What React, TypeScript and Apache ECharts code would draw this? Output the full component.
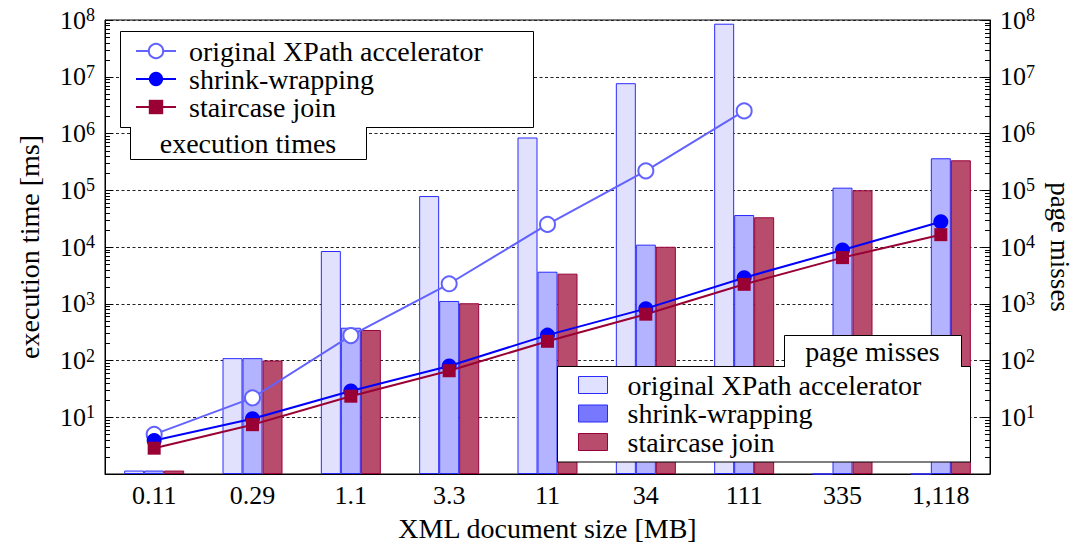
import React, { useEffect, useRef } from 'react';
import * as echarts from 'echarts';

const categories = ['0.11', '0.29', '1.1', '3.3', '11', '34', '111', '335', '1,118'];

// execution times [ms] (lines, left axis)
const xpathTime = [5.0, 22, 275, 2250, 25000, 220000, 2500000, null, null];
const shrinkTime = [3.9, 9.4, 29, 80, 280, 820, 2880, 8850, 27900];
const staircaseTime = [2.85, 7.4, 23.5, 66, 218, 655, 2200, 6500, 16500];

// page misses (bars, right axis)
const xpathMisses = [1.15, 110, 8500, 79000, 850000, 7700000, 86000000, 1, 1];
const shrinkMisses = [1.15, 110, 378, 1120, 3670, 11000, 36600, 111000, 366000];
const staircaseMisses = [1.15, 100, 345, 1020, 3390, 10100, 33400, 100000, 337000];

const seriesNames = ['original XPath accelerator', 'shrink-wrapping', 'staircase join'];
const missSuffix = ' (page misses)';

// minor log ticks
const minorMultipliers = [2, 3, 4, 5, 6, 7, 8, 9];
const decades = [1, 10, 100, 1e3, 1e4, 1e5, 1e6, 1e7];

const FONT = '"Liberation Serif", serif';
const TEXT_SIZE = 28;
const TICK_SIZE = 26;

const xpathLine = '#6262ff';
const shrinkLine = '#0000ff';
const stairLine = '#990033';

export default function App() {
  const ref = useRef<HTMLDivElement>(null);

  useEffect(() => {
    const chart = echarts.init(ref.current!, null, { renderer: 'svg' });

    const minorTicks: number[][] = [];
    decades.forEach((d) => minorMultipliers.forEach((m) => minorTicks.push([0, m * d])));

    const supLabel = (v: number) => `10{sup|${Math.round(Math.log10(v))}}`;
    const axisLabelCommon = {
      color: '#000',
      fontFamily: FONT,
      fontSize: TICK_SIZE,
      lineHeight: 28,
      showMinLabel: false,
      margin: 10,
      formatter: supLabel,
      rich: {
        sup: { fontFamily: FONT, fontSize: 18, lineHeight: 17, verticalAlign: 'top', color: '#000' },
      },
    };

    const option: any = {
      animation: false,
      backgroundColor: '#fff',
      grid: {
        left: 105,
        right: 88,
        top: 20,
        bottom: 71,
        containLabel: false,
        outerBoundsMode: 'none',
        show: true,
        borderColor: '#000',
        borderWidth: 1,
        backgroundColor: 'transparent',
      },
      xAxis: {
        type: 'category',
        data: categories,
        axisLine: { show: true, lineStyle: { color: '#000', width: 1 } },
        axisTick: { show: false },
        axisLabel: { color: '#000', fontFamily: FONT, fontSize: TICK_SIZE, margin: 8, interval: 0 },
        name: 'XML document size [MB]',
        nameLocation: 'middle',
        nameGap: 40,
        nameTextStyle: { color: '#000', fontFamily: FONT, fontSize: TEXT_SIZE },
        splitLine: { show: false },
      },
      yAxis: [
        {
          type: 'log',
          logBase: 10,
          min: 1,
          max: 1e8,
          splitNumber: 8,
          position: 'left',
          name: 'execution time [ms]',
          nameLocation: 'middle',
          nameGap: 62,
          nameRotate: 90,
          nameTextStyle: { color: '#000', fontFamily: FONT, fontSize: TEXT_SIZE },
          axisLine: { show: true, lineStyle: { color: '#000', width: 1 } },
          axisTick: { show: true, inside: true, length: 8, lineStyle: { color: '#000', width: 1 } },
          axisLabel: axisLabelCommon,
          splitLine: { show: true, lineStyle: { color: '#222', width: 1, type: [3, 2.5] } },
        },
        {
          type: 'log',
          logBase: 10,
          min: 1,
          max: 1e8,
          splitNumber: 8,
          position: 'right',
          name: 'page misses',
          nameLocation: 'middle',
          nameGap: 56,
          nameRotate: -90,
          nameTextStyle: { color: '#000', fontFamily: FONT, fontSize: 27 },
          axisLine: { show: true, lineStyle: { color: '#000', width: 1 } },
          axisTick: { show: true, inside: true, length: 8, lineStyle: { color: '#000', width: 1 } },
          axisLabel: axisLabelCommon,
          splitLine: { show: false },
        },
      ],
      legend: [
        {
          z: 6,
          orient: 'vertical',
          left: 135,
          top: 37,
          padding: 0,
          itemGap: 0,
          itemWidth: 40,
          itemHeight: 18,
          backgroundColor: 'transparent',
          selectedMode: false,
          data: seriesNames,
          textStyle: { color: '#000', fontFamily: FONT, fontSize: TEXT_SIZE, lineHeight: 26, padding: [0, 0, 0, 8] },
        },
        {
          z: 6,
          orient: 'vertical',
          left: 578,
          top: 371,
          padding: 0,
          itemGap: 0.5,
          itemWidth: 29,
          itemHeight: 17,
          icon: 'rect',
          backgroundColor: 'transparent',
          selectedMode: false,
          data: [
            { name: seriesNames[0] + missSuffix, itemStyle: { color: '#e0e0ff', borderColor: '#2a2aff', borderWidth: 1 } },
            { name: seriesNames[1] + missSuffix, itemStyle: { color: '#7878ff', borderColor: '#2a2aff', borderWidth: 1 } },
            { name: seriesNames[2] + missSuffix, itemStyle: { color: '#b84c6c', borderColor: '#99003a', borderWidth: 1 } },
          ],
          formatter: (name: string) => name.replace(missSuffix, ''),
          textStyle: { color: '#000', fontFamily: FONT, fontSize: TEXT_SIZE, lineHeight: 26, padding: [0, 0, 0, 15] },
        },
      ],
      graphic: [
        // execution times legend box
        {
          type: 'rect',
          z: 3,
          shape: { x: 120.5, y: 31.5, width: 413, height: 96 },
          style: { fill: '#fff', stroke: '#000', lineWidth: 1 },
        },
        {
          type: 'rect',
          z: 4,
          shape: { x: 131, y: 126, width: 235, height: 33 },
          style: { fill: '#fff', stroke: null },
        },
        {
          type: 'polyline',
          z: 4,
          shape: { points: [[130.5, 127.5], [130.5, 159.5], [366.5, 159.5], [366.5, 127.5]] },
          style: { fill: null, stroke: '#000', lineWidth: 1 },
        },
        {
          type: 'text',
          z: 4,
          x: 248,
          y: 143,
          style: { text: 'execution times', fontFamily: FONT, fontSize: TEXT_SIZE, fill: '#000', align: 'center', verticalAlign: 'middle' },
        },
        // page misses legend box
        {
          type: 'rect',
          z: 3,
          shape: { x: 557.5, y: 366.5, width: 413, height: 95.5 },
          style: { fill: '#fff', stroke: '#000', lineWidth: 1 },
        },
        {
          type: 'rect',
          z: 4,
          shape: { x: 785, y: 336, width: 176, height: 31.5 },
          style: { fill: '#fff', stroke: null },
        },
        {
          type: 'polyline',
          z: 4,
          shape: { points: [[784.5, 366.5], [784.5, 335.5], [961.5, 335.5], [961.5, 366.5]] },
          style: { fill: null, stroke: '#000', lineWidth: 1 },
        },
        {
          type: 'text',
          z: 4,
          x: 872.5,
          y: 351,
          style: { text: 'page misses', fontFamily: FONT, fontSize: TEXT_SIZE, fill: '#000', align: 'center', verticalAlign: 'middle' },
        },
      ],
      series: [
        {
          name: seriesNames[0] + missSuffix,
          type: 'bar',
          yAxisIndex: 1,
          data: xpathMisses,
          barWidth: 20,
          barGap: '0%',
          itemStyle: { color: '#e1e1fd', borderColor: '#2a2aff', borderWidth: 1 },
        },
        {
          name: seriesNames[1] + missSuffix,
          type: 'bar',
          yAxisIndex: 1,
          data: shrinkMisses,
          barWidth: 20,
          barGap: '0%',
          itemStyle: { color: '#b3b3ff', borderColor: '#2a2aff', borderWidth: 1 },
        },
        {
          name: seriesNames[2] + missSuffix,
          type: 'bar',
          yAxisIndex: 1,
          data: staircaseMisses,
          barWidth: 20,
          barGap: '0%',
          itemStyle: { color: '#b84c6c', borderColor: '#99003a', borderWidth: 1 },
        },
        {
          name: seriesNames[0],
          type: 'line',
          yAxisIndex: 0,
          data: xpathTime,
          z: 5,
          symbol: 'emptyCircle',
          symbolSize: 15,
          showAllSymbol: true,
          color: xpathLine,
          lineStyle: { color: xpathLine, width: 2 },
          itemStyle: { color: xpathLine, borderColor: xpathLine, borderWidth: 2 },
        },
        {
          name: seriesNames[1],
          type: 'line',
          yAxisIndex: 0,
          data: shrinkTime,
          z: 5,
          symbol: 'circle',
          symbolSize: 15,
          showAllSymbol: true,
          color: shrinkLine,
          lineStyle: { color: shrinkLine, width: 2 },
          itemStyle: { color: shrinkLine },
        },
        {
          name: seriesNames[2],
          type: 'line',
          yAxisIndex: 0,
          data: staircaseTime,
          z: 5,
          symbol: 'rect',
          symbolSize: 13,
          showAllSymbol: true,
          color: stairLine,
          lineStyle: { color: stairLine, width: 2 },
          itemStyle: { color: stairLine },
        },
        {
          name: 'minor ticks',
          type: 'custom',
          xAxisIndex: 0,
          yAxisIndex: 0,
          silent: true,
          z: 6,
          clip: false,
          data: minorTicks,
          encode: { x: 0, y: 1 },
          renderItem: (params: any, api: any) => {
            const cs = params.coordSys;
            const y = Math.round(api.coord([0, api.value(1)])[1]) + 0.5;
            return {
              type: 'group',
              children: [
                { type: 'line', shape: { x1: cs.x, y1: y, x2: cs.x + 5, y2: y }, style: { stroke: '#000', lineWidth: 1 } },
                { type: 'line', shape: { x1: cs.x + cs.width - 5, y1: y, x2: cs.x + cs.width, y2: y }, style: { stroke: '#000', lineWidth: 1 } },
              ],
            };
          },
        },
      ],
    };

    chart.setOption(option);
    return () => chart.dispose();
  }, []);

  return (
    <div
      ref={ref}
      style={{ position: 'fixed', left: 0, top: 0, width: 1078, height: 545, background: '#fff' }}
    />
  );
}
